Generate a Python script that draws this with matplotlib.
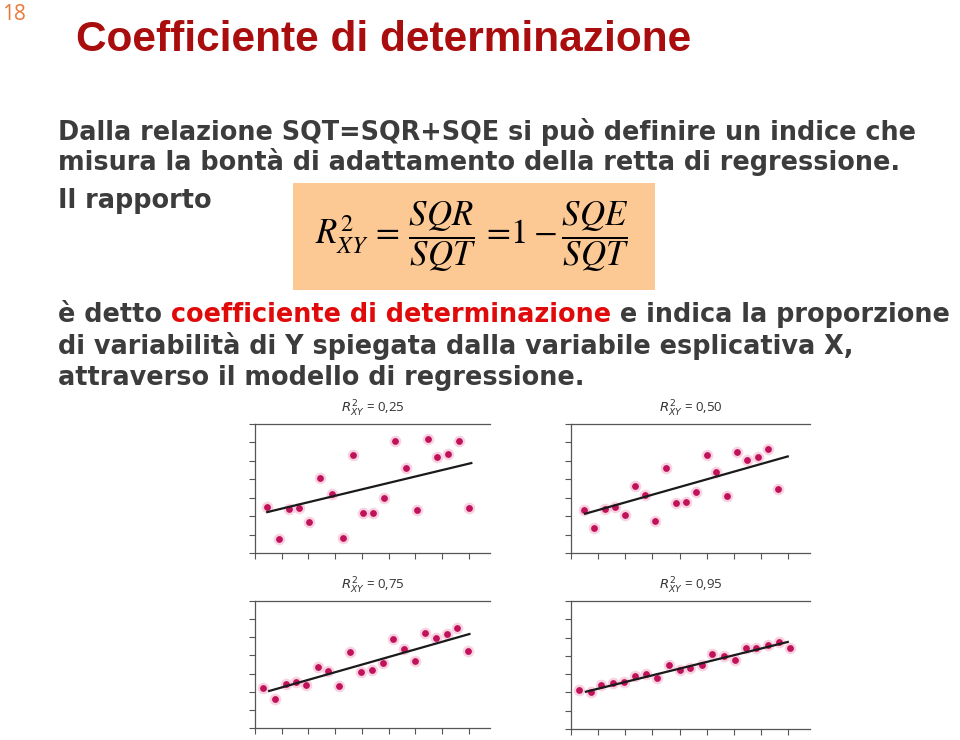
import matplotlib
matplotlib.use("Agg")
import matplotlib.pyplot as plt
import numpy as np
from matplotlib.patches import Rectangle

# ---------------- data ----------------
titles = ["0,25", "0,50", "0,75", "0,95"]

x1 = [0.46, 0.88, 1.28, 1.65, 2.04, 2.44, 2.88, 3.28, 3.66, 4.03, 4.43, 4.83, 5.23, 5.64, 6.06, 6.46, 6.83, 7.23, 7.64, 8.03]
y1 = [2.50, 0.76, 2.39, 2.44, 1.66, 4.07, 3.22, 0.81, 5.32, 2.19, 2.19, 2.97, 6.09, 4.59, 2.31, 6.18, 5.23, 5.37, 6.09, 2.44]
x2 = [0.48, 0.85, 1.25, 1.62, 1.99, 2.34, 2.72, 3.08, 3.50, 3.85, 4.23, 4.59, 4.99, 5.34, 5.75, 6.13, 6.49, 6.88, 7.24, 7.64]
y2 = [2.31, 1.34, 2.37, 2.51, 2.04, 3.62, 3.16, 1.72, 4.59, 2.69, 2.77, 3.29, 5.32, 4.39, 3.11, 5.50, 5.05, 5.20, 5.65, 3.47]
x3 = [0.31, 0.74, 1.15, 1.53, 1.92, 2.36, 2.75, 3.14, 3.56, 3.97, 4.37, 4.78, 5.17, 5.57, 5.98, 6.38, 6.79, 7.18, 7.58, 7.98]
y3 = [2.22, 1.62, 2.40, 2.55, 2.35, 3.35, 3.15, 2.29, 4.20, 3.09, 3.22, 3.60, 4.91, 4.38, 3.67, 5.24, 4.96, 5.18, 5.49, 4.25]
x4 = [0.31, 0.74, 1.10, 1.53, 1.96, 2.36, 2.77, 3.17, 3.59, 4.00, 4.39, 4.82, 5.20, 5.62, 6.04, 6.44, 6.83, 7.24, 7.67, 8.07]
y4 = [2.12, 2.03, 2.39, 2.53, 2.57, 2.89, 3.00, 2.78, 3.51, 3.25, 3.36, 3.51, 4.09, 3.98, 3.80, 4.41, 4.41, 4.59, 4.75, 4.41]

# regression line end points (x0, y0, x1, y1)
line1 = [0.46, 2.22, 8.10, 4.88]
line2 = [0.52, 2.13, 7.98, 5.24]
line3 = [0.53, 2.04, 8.03, 5.18]
line4 = [0.55, 2.04, 7.98, 4.76]

xticks = [0, 1, 2, 3, 4, 5, 6, 7, 8]
yticks = [0, 1, 2, 3, 4, 5, 6, 7]

# ---------------- figure ----------------
W, H = 960, 740
fig = plt.figure(figsize=(W / 100, H / 100), dpi=100)
fig.patch.set_facecolor("white")

bg = fig.add_axes([0, 0, 1, 1])
bg.set_xlim(0, W)
bg.set_ylim(H, 0)
bg.axis("off")

GRAY = "#3c3c3c"
RED = "#e00a0a"
TFONT = ["DejaVu Sans"]

# page number
bg.text(2, 20, "18", color="#e8793a", fontsize=15, family=["Open Sans", "DejaVu Sans"],
        va="baseline", ha="left")

# title
bg.text(76, 51, "Coefficiente di determinazione", color="#a90d0d", fontsize=30.5,
        fontweight="bold", family=["Liberation Sans Narrow", "Liberation Sans"],
        va="baseline", ha="left")

FS = 18.4
def line(x, y, parts):
    prev = None
    for txt, col in parts:
        if prev is None:
            prev = bg.text(x, y, txt, color=col, fontsize=FS, fontweight="bold",
                           family=TFONT, va="baseline", ha="left")
        else:
            prev = bg.annotate(txt, xy=(1, 0), xycoords=prev, color=col, fontsize=FS,
                               fontweight="bold", family=TFONT, va="bottom", ha="left")
    return prev

line(58, 140, [("Dalla relazione SQT=SQR+SQE si può definire un indice che", GRAY)])
line(58, 170, [("misura la bontà di adattamento della retta di regressione.", GRAY)])
line(58, 208, [("Il rapporto", GRAY)])
line(58, 322, [("è detto", GRAY), (" coefficiente di determinazione", RED),
               (" e indica la proporzione", GRAY)])
line(58, 354, [("di variabilità di Y spiegata dalla variabile esplicativa X,", GRAY)])
line(58, 385, [("attraverso il modello di regressione.", GRAY)])

# formula box
bg.add_patch(Rectangle((293, 183), 362, 107, facecolor="#fcc995", edgecolor="none"))
with plt.rc_context({"mathtext.fontset": "stix"}):
    bg.text(472, 237, r"$R^{2}_{XY}\,=\,\dfrac{SQR}{SQT}\,=\!1-\dfrac{SQE}{SQT}$",
            fontsize=25, color="black", ha="center", va="center")

# scatter panels
panels = [
    (255, 424, 490, 553, x1, y1, line1, titles[0]),
    (571, 424, 810, 553, x2, y2, line2, titles[1]),
    (255, 601, 490, 728, x3, y3, line3, titles[2]),
    (571, 601, 810, 729, x4, y4, line4, titles[3]),
]

for (l, t, r, b, xs, ys, ln, ttl) in panels:
    ax = fig.add_axes([l / W, 1 - b / H, (r - l) / W, (b - t) / H])
    ax.set_xlim(0, 8.8)
    ax.set_ylim(0, 7)
    ax.set_xticks(xticks)
    ax.set_yticks(yticks)
    ax.tick_params(direction="out", length=4, width=0.8, colors="#555555",
                   labelbottom=False, labelleft=False)
    for s in ["left", "bottom", "top"]:
        ax.spines[s].set_color("#555555")
        ax.spines[s].set_linewidth(0.9)
    ax.spines["right"].set_visible(False)
    ax.scatter(xs, ys, s=70, color="#f7bfd6", alpha=0.7, linewidths=0, zorder=2)
    ax.scatter(xs, ys, s=24, color="#c0125a", linewidths=0, zorder=3)
    ax.plot([ln[0], ln[2]], [ln[1], ln[3]], color="#1a1a1a", lw=1.6, zorder=4)
    with plt.rc_context({"mathtext.fontset": "dejavusans"}):
        bg.text((l + r) / 2, t - 11, r"$R^{2}_{XY}$" + " = " + ttl, fontsize=9.5,
                color="#333333", ha="center", va="baseline",
                family=["Open Sans", "DejaVu Sans"])

fig.savefig("out.png", dpi=100, facecolor="white")
